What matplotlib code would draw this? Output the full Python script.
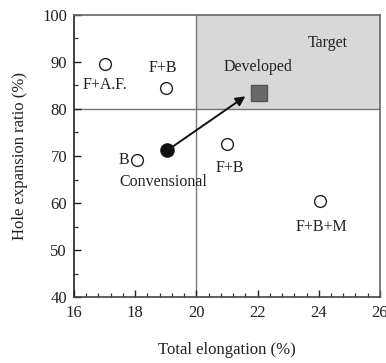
import matplotlib
matplotlib.use("Agg")
import matplotlib.pyplot as plt
from matplotlib.patches import Rectangle
from matplotlib.ticker import MultipleLocator

plt.rcParams["font.family"] = ["Liberation Serif", "DejaVu Serif"]

# Reference steels (open circles)
open_labels = ["F+A.F.", "F+B", "B", "F+B", "F+B+M"]
open_x = [17.0, 19.0, 18.05, 21.0, 24.05]
open_y = [89.5, 84.5, 69.2, 72.5, 60.5]

# Conventional and developed steels
conv_x, conv_y = 19.05, 71.2
dev_x, dev_y = 22.05, 83.5

# Target region
target_x, target_y = 20, 80

fig = plt.figure(figsize=(3.86, 3.63), dpi=100)
ax = fig.add_axes([0.1917, 0.1818, 0.7927, 0.7769])
ax.set_xlim(16, 26)
ax.set_ylim(40, 100)

ax.add_patch(Rectangle((target_x, target_y), 26 - target_x, 100 - target_y,
                       facecolor="#d8d8d8", edgecolor="none", zorder=0))
ax.axvline(target_x, color="#777777", lw=1.0, zorder=1)
ax.axhline(target_y, color="#777777", lw=1.0, zorder=1)

ax.plot(open_x, open_y, "o", ms=8.5, mfc="white", mec="#222222", mew=1.0,
        ls="none", zorder=3)
ax.plot([conv_x], [conv_y], "o", ms=9.5, color="#111111", zorder=3)
ax.plot([dev_x], [dev_y], "s", ms=11.5, mfc="#6a6a6a", mec="#555555", zorder=3)

ax.annotate("", xy=(21.6, 82.7), xytext=(conv_x, conv_y),
            arrowprops=dict(arrowstyle="-|>", color="#111111", lw=1.4,
                            mutation_scale=14, shrinkA=4, shrinkB=0),
            zorder=4)

fs = 11.5
tc = "#222222"
ax.text(17.0, 85.1, "F+A.F.", ha="center", va="center", fontsize=fs, color=tc)
ax.text(18.9, 88.7, "F+B", ha="center", va="center", fontsize=fs, color=tc)
ax.text(17.8, 69.2, "B", ha="right", va="center", fontsize=fs, color=tc)
ax.text(18.93, 64.5, "Convensional", ha="center", va="center", fontsize=fs, color=tc)
ax.text(21.1, 67.4, "F+B", ha="center", va="center", fontsize=fs, color=tc)
ax.text(24.1, 55.0, "F+B+M", ha="center", va="center", fontsize=fs, color=tc)
ax.text(22.0, 89.0, "Developed", ha="center", va="center", fontsize=fs, color=tc)
ax.text(24.3, 94.0, "Target", ha="center", va="center", fontsize=fs, color=tc)

ax.xaxis.set_major_locator(MultipleLocator(2))
ax.xaxis.set_minor_locator(MultipleLocator(0.4))
ax.yaxis.set_major_locator(MultipleLocator(10))
ax.yaxis.set_minor_locator(MultipleLocator(5))
ax.tick_params(axis="both", which="major", labelsize=12, colors="#222222",
               direction="in", length=5, width=1.0)
ax.tick_params(axis="both", which="minor", direction="in", length=3, width=0.9,
               colors="#333333")
ax.tick_params(axis="x", which="major", pad=6)
ax.tick_params(axis="y", which="major", pad=5)

for s in ax.spines.values():
    s.set_color("#666666")
    s.set_linewidth(1.2)
ax.spines["left"].set_color("#222222")
ax.spines["bottom"].set_color("#444444")

ax.set_xlabel("Total elongation (%)", fontsize=12, color="#222222", labelpad=15)
ax.set_ylabel("Hole expansion ratio (%)", fontsize=12, color="#222222", labelpad=10)

fig.savefig("out.png", dpi=100)
